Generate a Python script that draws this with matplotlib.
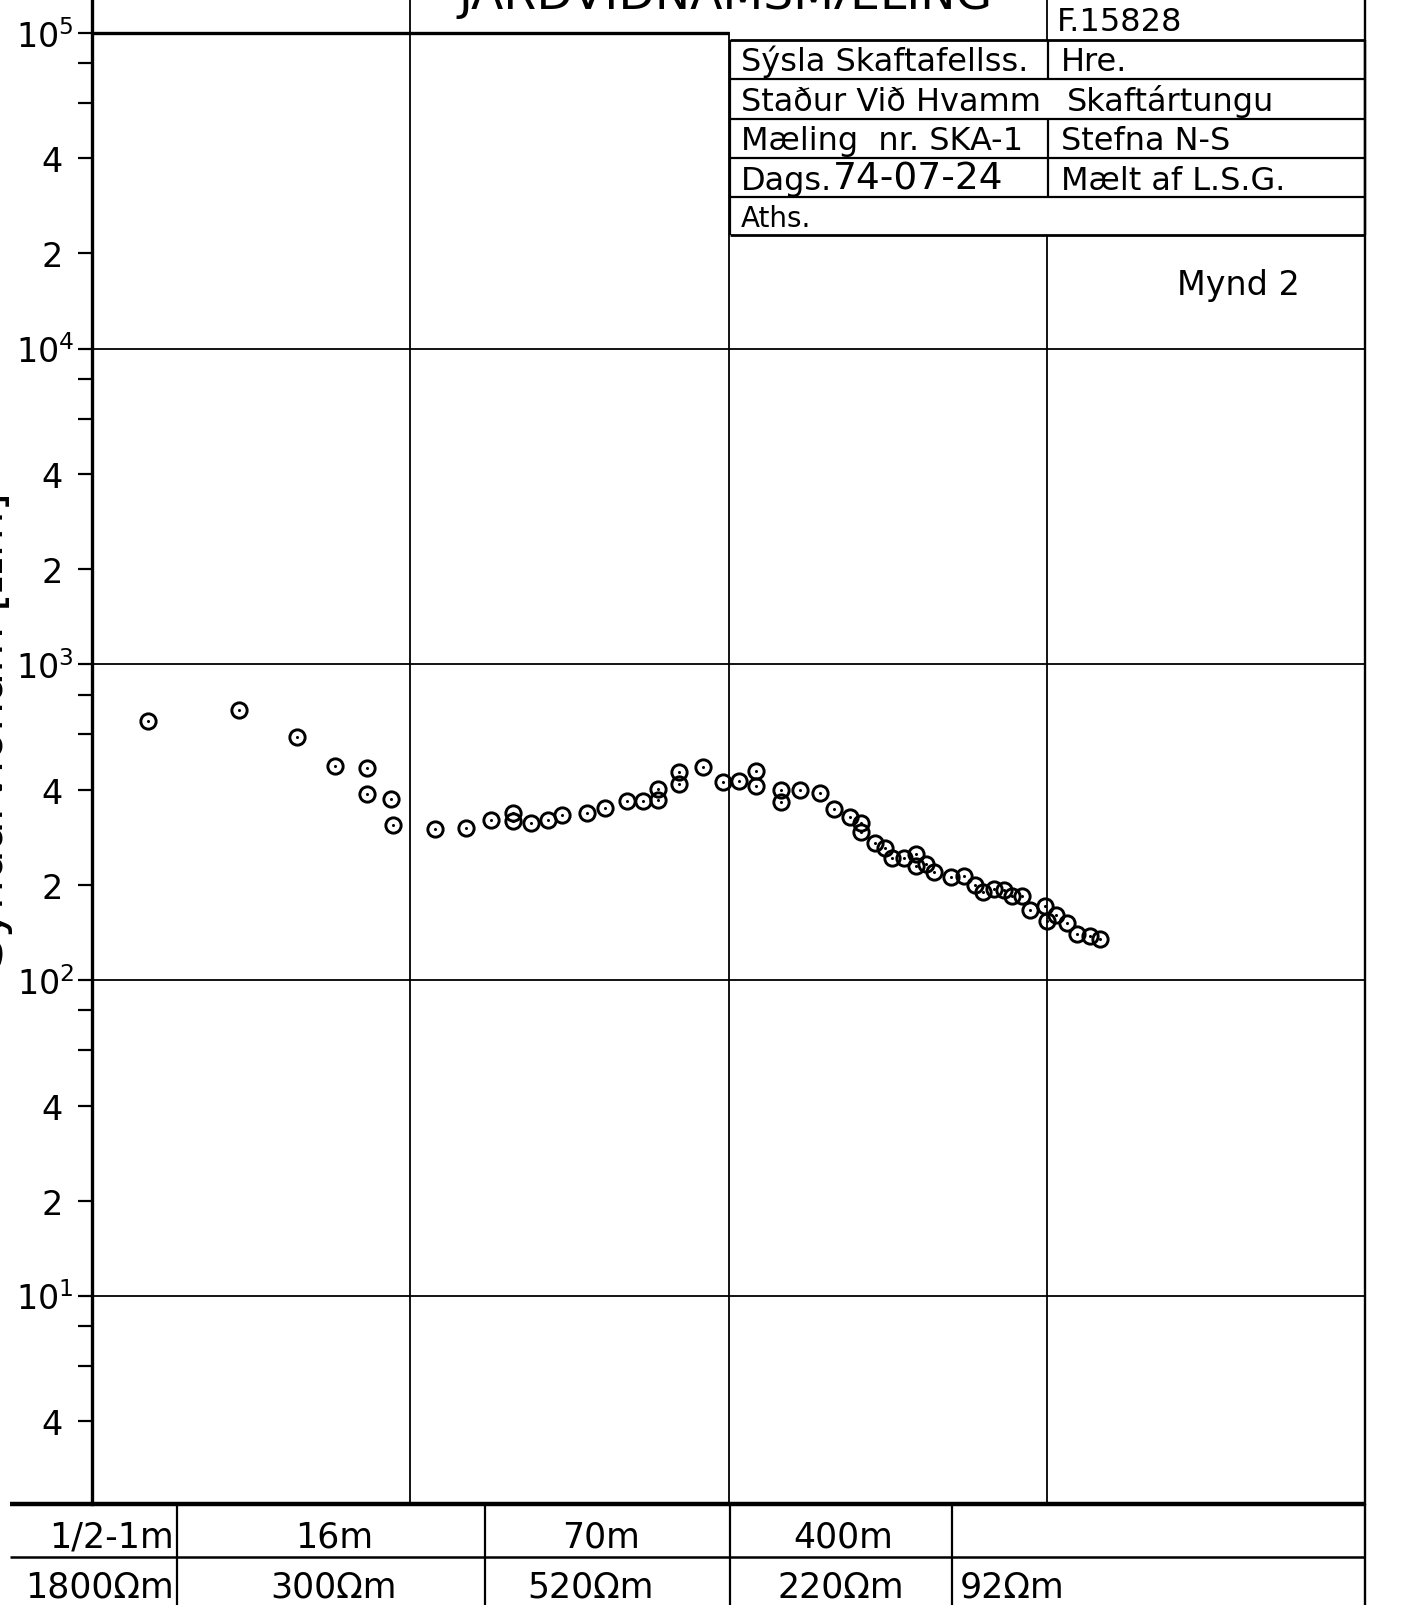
"""
Recreates Mynd 2: apparent resistivity sounding SKA-1 (Skaftartunga, 1974).
"""

import matplotlib
matplotlib.use("Agg")
import matplotlib.pyplot as plt
from matplotlib.lines import Line2D
from matplotlib.patches import Rectangle
from matplotlib.ticker import NullLocator

# AB/2 electrode spacing [m]
spacing = [1.5, 2.9, 4.4, 5.8, 7.3, 7.3, 8.7, 8.8,
           12, 15, 18, 21, 21, 24, 27, 30,
           36, 41, 48, 54, 60, 60, 70, 70,
           83, 96, 108, 122, 122, 146, 146, 168,
           194, 215, 240, 260, 260, 288, 310, 327,
           356, 387, 387, 416, 443, 501, 550, 594,
           632, 684, 735, 775, 834, 885, 990, 1000,
           1073, 1159, 1249, 1367, 1469]
# apparent resistivity [Ohm m]
resistivity = [662, 716, 586, 475, 468, 388, 374, 310,
               300, 303, 321, 339, 318, 313, 322, 333,
               337, 351, 369, 368, 402, 371, 454, 417,
               474, 422, 426, 460, 412, 399, 367, 400,
               390, 347, 328, 314, 295, 271, 261, 243,
               243, 250, 229, 233, 220, 212, 213, 200,
               190, 194, 193, 184, 185, 166, 171, 154,
               160, 151, 140, 138, 135]

# layer model table under the graph
layerDepths = ["1/2-1m", "16m", "70m", "400m"]
layerRes = ["1800Ωm", "300Ωm", "520Ωm", "220Ωm", "92Ωm"]

# header box
infoRows = [("Sýsla Skaftafellss.", "Hre."),
            ("Staður Við Hvamm", "Skaftártungu"),
            ("Mæling  nr. SKA-1", "Stefna N-S"),
            ("Dags.", "Mælt af L.S.G."),
            ("Aths.", "")]
dateText = "74-07-24"
sheetNo = "F.15828"
titleText = "JARÐVIÐNÁMSMÆLING"
figureName = "Mynd 2"
yLabel = "Sýndarviðnám [Ωm]"

W, H = 1401.0, 1606.0


def fx(x):
    return x / W


def fy(y):
    return 1 - y / H


def figLine(fig, x0, y0, x1, y1, lw=1.8, z=2):
    """Draws a straight line in figure pixel coordinates (origin top left)"""
    fig.add_artist(Line2D([fx(x0), fx(x1)], [fy(y0), fy(y1)], transform=fig.transFigure,
                          color="black", lw=lw, solid_capstyle="butt", zorder=z))


def drawAxes(fig):
    ax = fig.add_axes([fx(92), fy(1505.4), fx(1365) - fx(92), fy(0) - fy(1505.4)])
    ax.set_xscale("log")
    ax.set_yscale("log")
    ax.set_xlim(1, 1e4)
    ax.set_ylim(2.18, 1.28e5)
    ylow, yhigh = ax.get_ylim()

    # grid of the printed form
    for dec in [10, 100, 1000, 10000]:
        ax.axhline(dec, color="black", lw=1.3, zorder=1)
    ax.plot([1, 100], [1e5, 1e5], color="black", lw=2.4, solid_capstyle="butt", zorder=1)
    ax.plot([10, 10], [ylow, yhigh], color="black", lw=1.3, zorder=1)
    ax.plot([100, 100], [ylow, 1e5], color="black", lw=1.3, zorder=1)
    ax.plot([1000, 1000], [ylow, yhigh], color="black", lw=1.3, zorder=1)

    # measured points, circle with a dot in the middle
    ax.plot(spacing, resistivity, "o", mfc="none", mec="black", ms=11, mew=2.1, zorder=3)
    ax.plot(spacing, resistivity, ".", color="black", ms=2.4, zorder=3)

    ax.spines["top"].set_visible(False)
    ax.spines["bottom"].set_visible(False)
    ax.spines["left"].set_linewidth(2.4)
    ax.spines["right"].set_linewidth(1.7)

    ax.xaxis.set_major_locator(NullLocator())
    ax.xaxis.set_minor_locator(NullLocator())

    majors = [10, 100, 1000, 10000, 100000]
    ax.set_yticks(majors)
    ax.set_yticklabels(["$\\mathregular{10^{%d}}$" % i for i in range(1, 6)])
    minors = []
    minorLabels = []
    for n in range(0, 5):
        for m in [2, 4, 6, 8]:
            v = m * 10 ** n
            if ylow < v < yhigh:
                minors.append(v)
                minorLabels.append(str(m) if m in (2, 4) else "")
    ax.set_yticks(minors, minor=True)
    ax.set_yticklabels(minorLabels, minor=True)
    ax.tick_params(axis="y", which="both", direction="out", length=10, width=1.6)
    ax.tick_params(axis="y", which="major", labelsize=24, pad=3)
    ax.tick_params(axis="y", which="minor", labelsize=24, pad=11)
    return ax


def drawInfoBox(fig):
    fig.add_artist(Rectangle((fx(731), fy(236)), fx(1363) - fx(731), fy(41) - fy(236),
                             transform=fig.transFigure, facecolor="white", edgecolor="none",
                             zorder=1.5))
    for y in [41, 80, 120, 159, 198, 236]:
        figLine(fig, 730, y, 1365, y, lw=2.0 if y in (41, 236) else 1.6)
    figLine(fig, 730, 41, 730, 236, lw=1.6)
    figLine(fig, 1365, 41, 1365, 236, lw=1.7)
    figLine(fig, 1048, 41, 1048, 80, lw=1.6)
    figLine(fig, 1048, 120, 1048, 198, lw=1.6)

    baselines = [71, 111, 150, 190, 227]
    for i, (left, right) in enumerate(infoRows):
        size = 20 if left == "Aths." else 23
        fig.text(fx(741), fy(baselines[i]), left, fontsize=size, va="baseline", ha="left")
        rx = 1067 if i == 1 else 1061
        fig.text(fx(rx), fy(baselines[i]), right, fontsize=23, va="baseline", ha="left")
    fig.text(fx(833), fy(190), dateText, fontsize=27, va="baseline", ha="left")

    fig.text(fx(1057), fy(31), sheetNo, fontsize=23, va="baseline", ha="left")
    # sheet title, its top half is outside the scan
    fig.text(fx(725), fy(9), titleText, fontsize=34, va="baseline", ha="center")
    fig.text(fx(1177), fy(295), figureName, fontsize=24, va="baseline", ha="left")


def drawLayerTable(fig):
    figLine(fig, 10, 1505.4, 1366, 1505.4, lw=3.2, z=2.5)
    figLine(fig, 10, 1558, 1365, 1558, lw=1.8)
    for x in [177, 485, 730, 952]:
        figLine(fig, x, 1505, x, 1606, lw=1.6)
    figLine(fig, 1365, 1505, 1365, 1606, lw=1.7)

    depthX = [(174, "right"), (334, "center"), (601, "center"), (843, "center")]
    for text, (x, ha) in zip(layerDepths, depthX):
        fig.text(fx(x), fy(1548), text, fontsize=25, va="baseline", ha=ha)
    resX = [(174, "right"), (334, "center"), (591, "center"), (841, "center"), (960, "left")]
    for text, (x, ha) in zip(layerRes, resX):
        fig.text(fx(x), fy(1598), text, fontsize=25, va="baseline", ha=ha)


def main():
    fig = plt.figure(figsize=(W / 100, H / 100), dpi=100)
    drawAxes(fig)
    drawInfoBox(fig)
    drawLayerTable(fig)
    # axis title, mostly cut off by the left edge of the scan
    fig.text(fx(3), 0.546, yLabel, fontsize=34, rotation=90, rotation_mode="anchor",
             ha="center", va="baseline")
    fig.savefig("out.png", dpi=100)


main()
